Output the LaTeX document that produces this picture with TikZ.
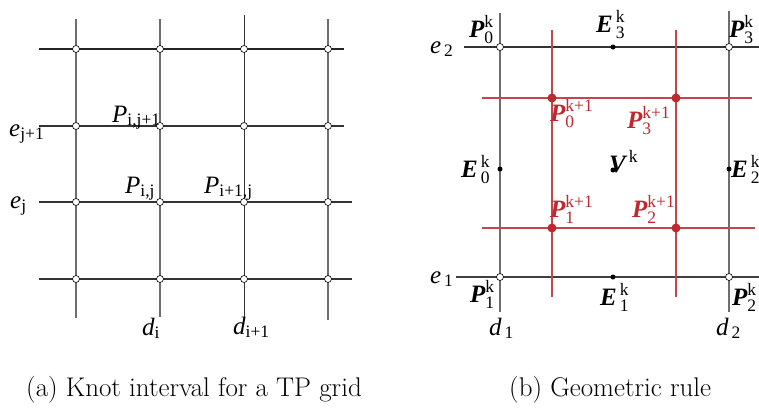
\documentclass[tikz,border=0pt]{standalone}
\usepackage{fontspec}
\usepackage{amsmath}
\newfontfamily\tms{Liberation Serif}
\definecolor{lgray}{HTML}{6E6E6E}
\definecolor{dgray}{HTML}{333333}
\definecolor{myred}{HTML}{C0282D}
\definecolor{redline}{HTML}{C4464A}
\begin{document}
\begin{tikzpicture}[x=1pt,y=-1pt,
  vline/.style={draw=lgray,line width=1.1pt},
  vlineb/.style={draw=black!80,line width=1pt},
  hline/.style={draw=dgray,line width=1.1pt},
  rline/.style={draw=redline,line width=1.1pt},
  knot/.style={circle,draw=black,fill=white,line width=0.6pt,inner sep=0pt,minimum size=7pt},
  edot/.style={circle,fill=black,inner sep=0pt,minimum size=5pt},
  rdot/.style={circle,fill=myred,inner sep=0pt,minimum size=9pt},
  lab/.style={anchor=base west,inner sep=0pt,font=\tms\fontsize{25}{30}\selectfont},
  rlab/.style={lab,text=myred},
  captext/.style={anchor=base west,inner sep=0pt,font=\fontsize{27}{32}\selectfont}]
\useasboundingbox (0,0) rectangle (759,408);
\fill[white] (0,0) rectangle (759,408);
% ---------- left panel ----------
\coordinate (lt1) at (76,19); \coordinate (lb1) at (76,318);
\coordinate (lt2) at (160,19); \coordinate (lb2) at (160,317);
\coordinate (lt3) at (244,15); \coordinate (lb3) at (244,318);
\coordinate (lt4) at (328,19); \coordinate (lb4) at (328,320);
\draw[vline] (lt1) -- (lb1);
\draw[vline] (lt2) -- (lb2);
\draw[vlineb] (lt3) -- (lb3);
\draw[vline] (lt4) -- (lb4);
\coordinate (ll1) at (39,49); \coordinate (lr1) at (344,49);
\coordinate (ll2) at (39,126); \coordinate (lr2) at (344,126);
\coordinate (ll3) at (39,202); \coordinate (lr3) at (352,202);
\coordinate (ll4) at (39,279); \coordinate (lr4) at (352,279);
\draw[hline,draw=black!85] (ll1) -- (lr1);
\draw[hline] (ll2) -- (lr2);
\draw[hline] (ll3) -- (lr3);
\draw[hline] (ll4) -- (lr4);
\foreach \x [count=\i] in {76,160,244,328}
  \foreach \y [count=\j] in {49,126,202,279}
    \node[knot] (k\i\j) at (\x,\y) {};
\node[lab] (ejp) at (9,136) {$\textit{e}_{\text{j+1}}$};
\node[lab] (ej) at (10,208) {$\textit{e}_{\text{j}}$};
\node[lab] (pij1) at (112,122) {$\textit{P}_{\text{i,j+1}}$};
\node[lab] (pij) at (125,193) {$\textit{P}_{\text{i,j}}$};
\node[lab] (pi1j) at (204,193) {$\textit{P}_{\text{i+1,j}}$};
\node[lab] (di) at (142,335) {$\textit{d}_{\text{i}}$};
\node[lab] (di1) at (233,334) {$\textit{d}_{\text{i+1}}$};
% ---------- right panel ----------
\coordinate (d1t) at (500,13); \coordinate (d1b) at (500,312);
\coordinate (d2t) at (729,11); \coordinate (d2b) at (729,312);
\draw[vline] (d1t) -- (d1b);
\draw[vline] (d2t) -- (d2b);
\coordinate (e2l) at (464,47); \coordinate (e2r) at (759,47);
\coordinate (e1l) at (456,277); \coordinate (e1r) at (759,277);
\draw[hline] (e2l) -- (e2r);
\draw[hline,draw=dgray!80!lgray] (e1l) -- (e1r);
\coordinate (r1t) at (552,30); \coordinate (r1b) at (552,297);
\coordinate (r2t) at (676,30); \coordinate (r2b) at (676,297);
\coordinate (r3l) at (482,98); \coordinate (r3r) at (752,98);
\coordinate (r4l) at (482,228); \coordinate (r4r) at (755,228);
\draw[rline] (r1t) -- (r1b);
\draw[rline] (r2t) -- (r2b);
\draw[rline] (r3l) -- (r3r);
\draw[rline] (r4l) -- (r4r);
\node[knot] (P0) at (500,47) {};
\node[knot] (P3) at (729,47) {};
\node[knot] (P1) at (500,277) {};
\node[knot] (P2) at (729,277) {};
\node[edot] (E3) at (613,47) {};
\node[edot] (E1) at (613,277) {};
\node[edot] (E0) at (500,169) {};
\node[edot] (E2) at (729,169) {};
\node[edot] (V) at (613,170) {};
\node[rdot] (Q0) at (552,98) {};
\node[rdot] (Q3) at (676,98) {};
\node[rdot] (Q1) at (552,228) {};
\node[rdot] (Q2) at (676,228) {};
\node[lab] (le2) at (430,53) {$\textit{e}_{\,\text{2}}$};
\node[lab] (le1) at (430,283) {$\textit{e}_{\,\text{1}}$};
\node[lab] (ld1) at (489,335) {$\textit{d}_{\,\text{1}}$};
\node[lab] (ld2) at (716,335) {$\textit{d}_{\,\text{2}}$};
\node[lab] (lP0) at (469,37) {$\text{\bfseries\itshape P}^{\text{k}}_{\text{0}}$};
\node[lab] (lP3) at (729,37) {$\text{\bfseries\itshape P}^{\text{k}}_{\text{3}}$};
\node[lab] (lP1) at (470,302) {$\text{\bfseries\itshape P}^{\text{k}}_{\text{1}}$};
\node[lab] (lP2) at (732,305) {$\text{\bfseries\itshape P}^{\text{k}}_{\text{2}}$};
\node[lab] (lE3) at (596,32) {$\text{\bfseries\itshape E}^{\,\text{k}}_{\,\text{3}}$};
\node[lab] (lE1) at (600,305) {$\text{\bfseries\itshape E}^{\,\text{k}}_{\,\text{1}}$};
\node[lab] (lE0) at (461,177) {$\text{\bfseries\itshape E}^{\,\text{k}}_{\,\text{0}}$};
\node[lab] (lE2) at (731,177) {$\text{\bfseries\itshape E}^{\,\text{k}}_{\,\text{2}}$};
\node[lab] (lV) at (609,172) {$\text{\bfseries\itshape V}^{\,\text{k}}$};
\node[rlab] (lQ0) at (550,121) {$\text{\bfseries\itshape P}^{\text{k+1}}_{\text{0}}$};
\node[rlab] (lQ3) at (627,128) {$\text{\bfseries\itshape P}^{\text{k+1}}_{\text{3}}$};
\node[rlab] (lQ1) at (550,217) {$\text{\bfseries\itshape P}^{\text{k+1}}_{\text{1}}$};
\node[rlab] (lQ2) at (632,217) {$\text{\bfseries\itshape P}^{\text{k+1}}_{\text{2}}$};
% ---------- captions ----------
\node[captext] (capa) at (26,396) {(a) Knot interval for a TP grid};
\node[captext] (capb) at (509,396) {(b) Geometric rule};
\end{tikzpicture}
\end{document}
